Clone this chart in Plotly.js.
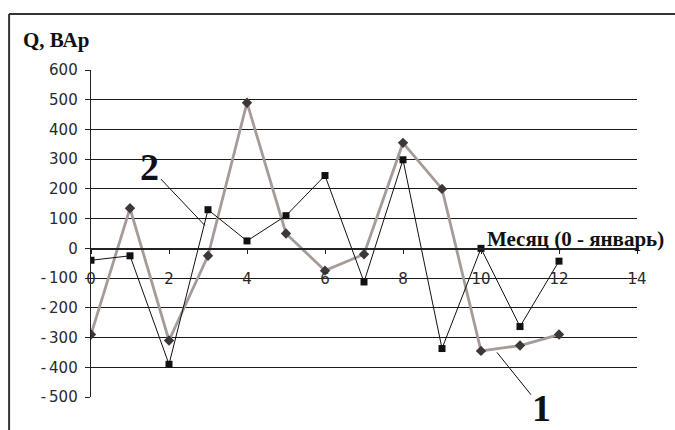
<!DOCTYPE html>
<html>
<head>
<meta charset="utf-8">
<script src="https://cdn.plot.ly/plotly-3.0.1.min.js"></script>
<style>html,body{margin:0;padding:0;background:#fff}#chart{width:675px;height:430px}</style>
</head>
<body>
<div id="chart"></div>
<script>
// Month index (0 = January)
const months = [0, 1, 2, 3, 4, 5, 6, 7, 8, 9, 10, 11, 12];
// Curve 1 (grey, diamonds), Q in VAr
const series1 = [-290, 135, -310, -25, 490, 50, -75, -20, 355, 200, -345, -327, -290];
// Curve 2 (black, squares), Q in VAr
const series2 = [-40, -25, -390, 130, 25, 110, 245, -113, 298, -337, 0, -263, -43];
const yTicks = [600, 500, 400, 300, 200, 100, 0, -100, -200, -300, -400, -500];
const yGrid = [500, 400, 300, 200, 100, 0, -100, -200, -300, -400];
const xTicks = [0, 2, 4, 6, 8, 10, 12, 14];

const tickFont = {family: 'DejaVu Sans', size: 15, color: '#2a2a2a'};
const serifBold = {family: 'Liberation Serif', color: '#111', weight: 'bold'};

const traces = [
  {x: months, y: series1, mode: 'lines+markers', name: '1', yaxis: 'y',
   line: {color: '#a59b97', width: 2.8},
   marker: {symbol: 'diamond', size: 8, color: '#3d3838'}},
  {x: months, y: series2, mode: 'lines+markers', name: '2', yaxis: 'y2',
   line: {color: '#111', width: 1},
   marker: {symbol: 'square', size: 7, color: '#111'}}
];

const layout = {
  width: 675, height: 430,
  margin: {l: 91, r: 38, t: 70, b: 33},
  paper_bgcolor: '#fff', plot_bgcolor: 'rgba(0,0,0,0)',
  showlegend: false,
  xaxis: {range: [0, 14], tickvals: xTicks, anchor: 'free', position: 500 / 1100,
          showline: true, linecolor: '#222', linewidth: 1.3, showgrid: false, zeroline: false,
          ticks: 'outside', ticklen: 4, tickcolor: '#222', tickfont: tickFont,
          ticklabelstandoff: 12},
  yaxis: {range: [-500, 600], tickvals: yTicks,
          ticktext: yTicks.map(v => String(v).replace('-', '-\u2009')),
          showline: true, linecolor: '#222', linewidth: 1.3,
          showgrid: false, zeroline: false, ticks: 'outside', ticklen: 5, tickcolor: '#222',
          tickfont: tickFont, ticklabelstandoff: 4},
  yaxis2: {range: [-500, 600], overlaying: 'y', anchor: 'x', tickvals: yGrid, showgrid: true,
           gridcolor: '#1a1a1a', gridwidth: 1, showticklabels: false, zeroline: false,
           showline: false, ticks: ''},
  shapes: [
    {type: 'line', xref: 'paper', yref: 'paper', x0: -0.150, x1: 1.08, y0: 1.171, y1: 1.171,
     line: {color: '#333', width: 2}},
    {type: 'line', xref: 'paper', yref: 'paper', x0: -0.150, x1: -0.150, y0: 1.171, y1: -0.11,
     line: {color: '#333', width: 2}}
  ],
  annotations: [
    {xref: 'paper', yref: 'paper', x: -0.128, y: 1.092, xanchor: 'left', yanchor: 'middle',
     text: 'Q, ВАр', showarrow: false, font: Object.assign({size: 21}, serifBold)},
    {xref: 'paper', yref: 'paper', x: 0.722, y: 0.482, xanchor: 'left', yanchor: 'middle',
     text: 'Месяц (0 - январь)', showarrow: false, font: Object.assign({size: 21}, serifBold)},
    {x: 2.92, y: 77, text: '2', showarrow: true, arrowhead: 0, arrowwidth: 1, arrowcolor: '#111',
     ax: -55, ay: -58, font: Object.assign({size: 38}, serifBold)},
    {x: 10.41, y: -350, text: '1', showarrow: true, arrowhead: 0, arrowwidth: 1, arrowcolor: '#111',
     ax: 45, ay: 56, font: Object.assign({size: 38}, serifBold)}
  ]
};

Plotly.newPlot('chart', traces, layout, {staticPlot: true, displayModeBar: false});
</script>
</body>
</html>
